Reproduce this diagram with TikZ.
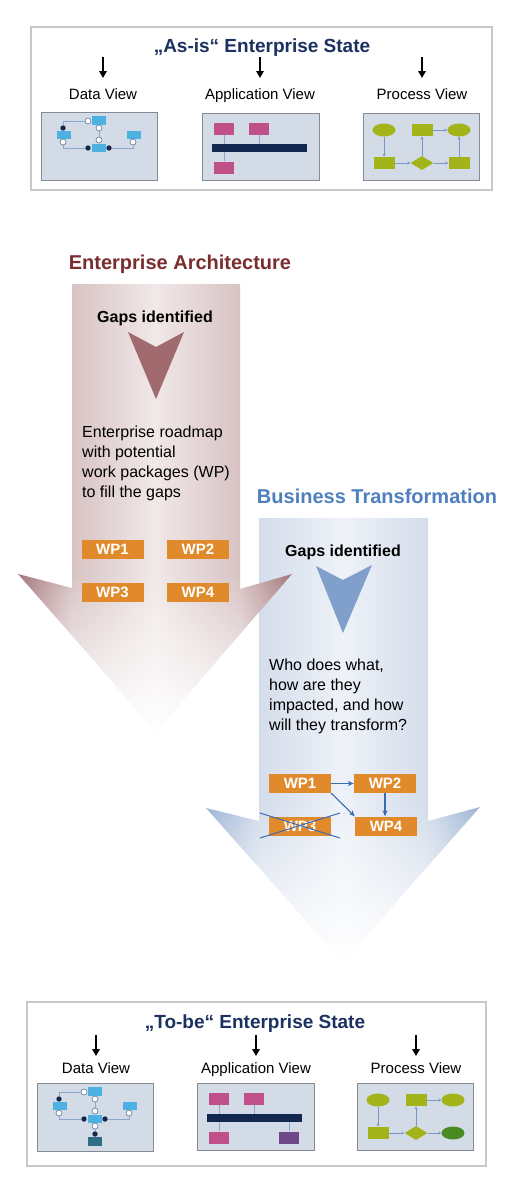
\documentclass[tikz,border=0pt]{standalone}
\usepackage{fontspec}
\setmainfont{Liberation Sans}
\usetikzlibrary{arrows.meta,shapes.geometric,fadings}

\definecolor{navy}{HTML}{1B3160}
\definecolor{earust}{HTML}{7B2C2E}
\definecolor{btblue}{HTML}{4E7FBF}
\definecolor{panelfill}{HTML}{D3DBE7}
\definecolor{panelline}{HTML}{868B93}
\definecolor{boxline}{HTML}{C8C8C8}
\definecolor{wporange}{HTML}{E08A2C}
\definecolor{dataBlue}{HTML}{4DB1E2}
\definecolor{dotnavy}{HTML}{14284E}
\definecolor{dotline}{HTML}{5F7497}
\definecolor{linkline}{HTML}{8DA6CC}
\definecolor{appPink}{HTML}{C0508A}
\definecolor{appBar}{HTML}{12284F}
\definecolor{appPurple}{HTML}{6E4888}
\definecolor{olive}{HTML}{A2B41A}
\definecolor{darkgreen}{HTML}{4A8A22}
\definecolor{tealbox}{HTML}{2F6E86}
\definecolor{flowline}{HTML}{7896C8}
\definecolor{eadart}{HTML}{A06A6E}
\definecolor{btdart}{HTML}{819FCB}
\definecolor{wparrow}{HTML}{3A6BB4}
\definecolor{eaTip}{HTML}{A27478}
\definecolor{eaEdge}{HTML}{D8C3C4}
\definecolor{eaMid}{HTML}{F1E8E8}
\definecolor{btTip}{HTML}{9CB3D5}
\definecolor{btEdge}{HTML}{D4DDEB}
\definecolor{btMid}{HTML}{EEF2F8}

\pgfdeclarehorizontalshading{eashade}{100bp}{color(0bp)=(eaTip); color(25bp)=(eaTip); color(34.8bp)=(eaEdge); color(50bp)=(eaMid); color(65.3bp)=(eaEdge); color(75bp)=(eaTip); color(100bp)=(eaTip)}
\pgfdeclarehorizontalshading{btshade}{100bp}{color(0bp)=(btTip); color(25bp)=(btTip); color(34.7bp)=(btEdge); color(50bp)=(btMid); color(65.5bp)=(btEdge); color(75bp)=(btTip); color(100bp)=(btTip)}
\tikzfading[name=fadedown, top color=transparent!100, bottom color=transparent!0]

% data view panel: #1 x, #2 y, #3 prefix, #4 extra nodes, #5 extra links
\newcommand\dataviewpanel[5]{%
\begin{scope}[shift={(#1,#2)}]
\filldraw[panel] (0,0) rectangle (116,68);
\coordinate (#3k1) at (22,9);
\coordinate (#3k2) at (22,36);
\coordinate (#3k3) at (92,36);
\node[datarect, minimum height=9] (#3tr) at (58,8.5) {};
\node[datarect] (#3lr) at (23,23) {};
\node[datarect] (#3cr) at (58,36) {};
\node[datarect] (#3rr) at (93,23) {};
\node[whitedot] (#3A) at (47,9) {};
\node[darkdot] (#3B) at (22,16) {};
\node[whitedot] (#3C) at (22,30) {};
\node[darkdot] (#3D) at (47,36) {};
\node[darkdot] (#3E) at (68,36) {};
\node[whitedot] (#3F) at (92,30) {};
\node[whitedot] (#3G) at (58,16) {};
\node[whitedot] (#3H) at (58,28) {};
#4
\draw[link] (#3A) -- (#3k1) -- (#3B);
\draw[link] (#3C) -- (#3k2) -- (#3D);
\draw[link] (#3E) -- (#3k3) -- (#3F);
\draw[link] (#3G) -- (#3H);
#5
\end{scope}}

% application view panel
\newcommand\appviewpanel[4]{%
\begin{scope}[shift={(#1,#2)}]
\filldraw[panel] (0,0) rectangle (117,67);
\node[apprect] (#3p1) at (22,16) {};
\node[apprect] (#3p2) at (57,16) {};
\node[appbar] (#3bar) at (57.5,35) {};
\node[apprect] (#3p3) at (22,54.5) {};
\draw[link] (#3p1.south) -- (#3p1.south |- #3bar.north);
\draw[link] (#3p2.south) -- (#3p2.south |- #3bar.north);
\draw[link] (#3p3.north) -- (#3p3.north |- #3bar.south);
#4
\end{scope}}

% process view panel
\newcommand\procviewpanel[4]{%
\begin{scope}[shift={(#1,#2)}]
\filldraw[panel] (0,0) rectangle (116,67);
\node[oliveell] (#3e1) at (21,17) {};
\node[oliverect] (#3r1) at (59,17) {};
\node[oliveell] (#3e2) at (96,17) {};
\node[oliverect] (#3r2) at (21,50) {};
\node[olivedia] (#3d) at (59,50) {};
\draw[flow] (#3e1) -- (#3r2);
\draw[flow] (#3r2) -- (#3d);
\draw[flow] (#3d) -- (#3r1);
\draw[flow] (#3r1) -- (#3e2);
#4
\end{scope}}

\begin{document}
\begin{tikzpicture}[x=1pt,y=-1pt,
  panel/.style={fill=panelfill, draw=panelline, line width=0.9pt},
  outerbox/.style={draw=boxline, line width=1.3pt},
  title/.style={font=\fontsize{19}{23}\selectfont\bfseries, anchor=base, inner sep=0pt},
  viewlabel/.style={font=\fontsize{15}{18}\selectfont, anchor=base, inner sep=0pt},
  downarrow/.style={-{Triangle[length=7pt,width=7.5pt]}, line width=1.7pt, black},
  datarect/.style={fill=dataBlue, minimum width=14pt, minimum height=8pt, inner sep=0pt},
  darkdot/.style={circle, fill=dotnavy, minimum size=5.4pt, inner sep=0pt},
  whitedot/.style={circle, fill=white, draw=dotline, line width=0.6pt, minimum size=6pt, inner sep=0pt},
  link/.style={draw=linkline, line width=0.8pt},
  apprect/.style={fill=appPink, minimum width=20pt, minimum height=12pt, inner sep=0pt},
  appbar/.style={fill=appBar, minimum width=95pt, minimum height=8pt, inner sep=0pt},
  oliveell/.style={ellipse, fill=olive, minimum width=23pt, minimum height=13pt, inner sep=0pt},
  oliverect/.style={fill=olive, minimum width=21pt, minimum height=12.5pt, inner sep=0pt},
  olivedia/.style={diamond, fill=olive, minimum width=23pt, minimum height=14pt, aspect=1.6, inner sep=0pt},
  flow/.style={draw=flowline, line width=0.6pt, -{Stealth[length=3pt,width=3pt]}},
  gaps/.style={font=\fontsize{16}{19}\selectfont\bfseries, anchor=base, inner sep=0pt},
  body/.style={font=\fontsize{16}{20}\selectfont, align=left, anchor=north west, inner sep=0pt},
  wp/.style={fill=wporange, text=white, font=\fontsize{15}{18}\selectfont\bfseries, minimum width=62pt, minimum height=19pt, inner sep=0pt},
  wplink/.style={draw=wparrow, line width=1.1pt, -{Stealth[length=6pt,width=5pt]}},
  cross/.style={draw=wparrow, line width=1pt}
]
\useasboundingbox (0,0) rectangle (517,1195);
\fill[white] (0,0) rectangle (517,1195);

% ================= As-is box =================
\draw[outerbox] (31,27) rectangle (492,190);
\node[title, text=navy] (asis) at (262,52) {„As-is“ Enterprise State};
\coordinate (a1s) at (103,57); \coordinate (a1e) at (103,78);
\coordinate (a2s) at (260,57); \coordinate (a2e) at (260,78);
\coordinate (a3s) at (422,57); \coordinate (a3e) at (422,78);
\draw[downarrow] (a1s) -- (a1e);
\draw[downarrow] (a2s) -- (a2e);
\draw[downarrow] (a3s) -- (a3e);
\node[viewlabel] (dv1) at (103,99) {Data View};
\node[viewlabel] (av1) at (260,99) {Application View};
\node[viewlabel] (pv1) at (422,99) {Process View};
\dataviewpanel{41}{112}{u}{}{}
\appviewpanel{202}{113}{v}{}
\procviewpanel{363}{113}{w}{%
  \node[oliverect] (wr3) at (96,50) {};
  \draw[flow] (wd) -- (wr3);
  \draw[flow] (wr3) -- (we2);}

% ================= Big arrows =================
% Business Transformation arrow
\path[shading=btshade] (259,518) -- (428,518) -- (428,821) -- (480,807) -- (343,962) -- (206,808) -- (259,821) -- cycle;
\begin{scope}
\clip (259,518) -- (428,518) -- (428,821) -- (480,807) -- (343,962) -- (206,808) -- (259,821) -- cycle;
\fill[white, path fading=fadedown] (200,805) rectangle (485,965);
\end{scope}
% Enterprise Architecture arrow
\path[shading=eashade] (72,284) -- (240,284) -- (240,589) -- (292,574) -- (156,731) -- (18,574) -- (72,588) -- cycle;
\begin{scope}
\clip (72,284) -- (240,284) -- (240,589) -- (292,574) -- (156,731) -- (18,574) -- (72,588) -- cycle;
\fill[white, path fading=fadedown] (10,572) rectangle (300,733);
\end{scope}

% EA contents
\node[title, text=earust, font=\fontsize{20}{24}\selectfont\bfseries] (eat) at (180,269) {Enterprise Architecture};
\node[gaps] (eag) at (155,322) {Gaps identified};
\fill[eadart] (128,332) -- (156,347) -- (184,332) -- (156,399) -- cycle;
\node[body] (eab) at (82,425.6) {Enterprise roadmap\\with potential\\work packages (WP)\\to fill the gaps};
\node[wp] (ea1) at (112.5,549.5) {WP1};
\node[wp] (ea2) at (198,549.5) {WP2};
\node[wp] (ea3) at (112.5,592) {WP3};
\node[wp] (ea4) at (198,592) {WP4};

% BT contents
\node[title, text=btblue, font=\fontsize{20}{24}\selectfont\bfseries] (btt) at (377,503) {Business Transformation};
\node[gaps] (btg) at (343,556) {Gaps identified};
\fill[btdart] (316,566) -- (343,580) -- (372,565) -- (343,633) -- cycle;
\node[body] (btb) at (269,658.3) {Who does what,\\how are they\\impacted, and how\\will they transform?};
\node[wp] (bt1) at (300,783.5) {WP1};
\node[wp] (bt2) at (385,783.5) {WP2};
\node[wp] (bt3) at (300,826) {WP3};
\node[wp] (bt4) at (386,826) {WP4};
\draw[wplink] (bt1.east) -- (bt2.west);
\draw[wplink] (bt1.south east) -- (bt4.north west);
\draw[wplink] (bt2.south) -- (bt2.south |- bt4.north);
\coordinate (x1) at (260,813); \coordinate (x2) at (340,838);
\coordinate (x3) at (260,838); \coordinate (x4) at (340,813);
\draw[cross] (x1) -- (x2);
\draw[cross] (x3) -- (x4);

% ================= To-be box =================
\draw[outerbox] (27,1002) rectangle (486,1166);
\node[title, text=navy] (tobe) at (255,1028.5) {„To-be“ Enterprise State};
\coordinate (b1s) at (96,1035); \coordinate (b1e) at (96,1056);
\coordinate (b2s) at (256,1035); \coordinate (b2e) at (256,1056);
\coordinate (b3s) at (416,1035); \coordinate (b3e) at (416,1056);
\draw[downarrow] (b1s) -- (b1e);
\draw[downarrow] (b2s) -- (b2e);
\draw[downarrow] (b3s) -- (b3e);
\node[viewlabel] (dv2) at (96,1073) {Data View};
\node[viewlabel] (av2) at (256,1073) {Application View};
\node[viewlabel] (pv2) at (416,1073) {Process View};
\dataviewpanel{37}{1083}{t}{%
  \node[whitedot] (tI) at (58,43) {};
  \node[darkdot] (tJ) at (58,51) {};
  \node[datarect, fill=tealbox, minimum height=9] (tT) at (58,58.5) {};}{%
  \draw[link] (tcr) -- (tI);
  \draw[link] (tI) -- (tJ);}
\appviewpanel{197}{1083}{s}{%
  \node[apprect, fill=appPurple] (sp4) at (92,54.5) {};
  \draw[link] (sp4.north) -- (sp4.north |- sbar.south);}
\procviewpanel{357}{1083}{q}{%
  \node[oliveell, fill=darkgreen] (qe3) at (96,50) {};
  \draw[flow] (qd) -- (qe3);}
\end{tikzpicture}
\end{document}
